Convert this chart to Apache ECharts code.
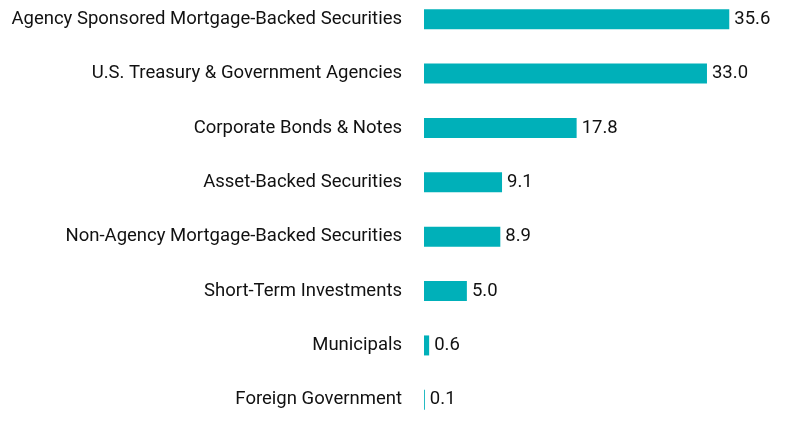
<!DOCTYPE html>
<html><head><meta charset="utf-8">
<script src="https://cdn.jsdelivr.net/npm/echarts@6/dist/echarts.min.js"></script>
<style>html,body{margin:0;padding:0;background:#fff}#c{width:792px;height:424px}</style>
</head><body><div id="c"></div>
<script>
var categories = ['Agency Sponsored Mortgage-Backed Securities', 'U.S. Treasury & Government Agencies', 'Corporate Bonds & Notes', 'Asset-Backed Securities', 'Non-Agency Mortgage-Backed Securities', 'Short-Term Investments', 'Municipals', 'Foreign Government'];
var values = [35.6, 33.0, 17.8, 9.1, 8.9, 5.0, 0.6, 0.1];

var chart = echarts.init(document.getElementById('c'));
chart.setOption({
    animation: false,
    textStyle: { fontFamily: 'Roboto' },
    grid: { left: 424, right: 25, top: -8, bottom: -3, outerBoundsMode: 'none', containLabel: false },
    xAxis: { type: 'value', min: 0, max: 40, show: false },
    yAxis: {
        type: 'category',
        data: categories,
        inverse: true,
        axisLine: { show: false },
        axisTick: { show: false },
        axisLabel: { color: '#111', fontSize: 18.5, margin: 22, fontFamily: 'Roboto' }
    },
    series: [{
        type: 'bar',
        data: values,
        barWidth: 20,
        itemStyle: { color: '#00B0B9' },
        label: {
            show: true, position: 'right', distance: 5, color: '#111', fontSize: 18.5,
            fontFamily: 'Roboto',
            formatter: function (p) { return p.value.toFixed(1); }
        }
    }]
});
</script></body></html>
